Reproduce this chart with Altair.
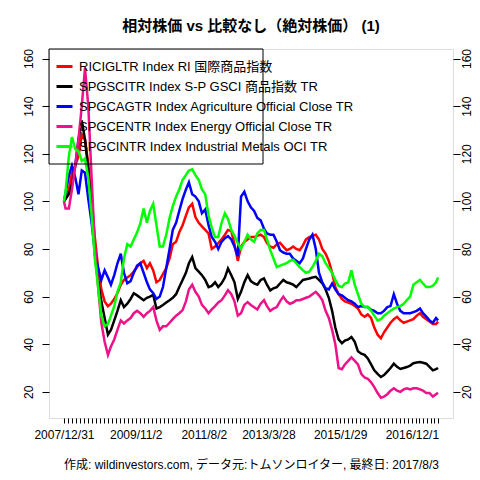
import altair as alt
import pandas as pd

# ---- data (monthly samples) ----
dates = ["2007-12-31"] + [f"{y}-{m:02d}-15" for y in range(2008, 2018) for m in range(1, 13)
                          if (y, m) <= (2017, 7)] + ["2017-08-03"]

series_names = [
    "RICIGLTR Index RI 国際商品指数",
    "SPGSCITR Index S-P GSCI 商品指数 TR",
    "SPGCAGTR Index Agriculture Official Close TR",
    "SPGCENTR Index Energy Official Close TR",
    "SPGCINTR Index Industrial Metals OCI TR",
]
series_colors = ["#FF0000", "#000000", "#0000FF", "#EE1289", "#00FF00"]

red = [
    100, 101, 105, 112, 115, 119, 128, 126, 116, 100,
    85, 72, 63, 58, 56, 57, 59, 61.5, 65, 67,
    68, 69, 70.5, 72.4, 74, 75, 72, 74, 71, 66,
    67, 69.5, 72, 76, 82, 83, 87, 90, 94, 97.5,
    99, 93.4, 91, 89.5, 88, 86.5, 80, 81, 82.5, 84,
    86, 88, 87.5, 82, 75, 81, 83, 84, 85, 85,
    85.5, 86, 85, 82.5, 81, 80.5, 82, 82.6, 81, 79.5,
    80, 81, 80, 79.5, 81.5, 84, 85, 85.5, 86, 84,
    80, 78, 75, 70, 64, 61, 59, 58, 57.5, 57,
    56, 55, 52.5, 51.5, 52.5, 51, 47, 44, 42.5, 45,
    47, 49, 50.5, 51.5, 50, 49, 49.5, 50, 50.5, 52,
    53, 51.5, 50.5, 49.5, 48.5, 48.5, 49.5,
]
black = [
    100, 101, 103, 107, 115, 126, 134, 126, 113, 98,
    78, 66, 58, 51, 44, 46, 50, 54, 58.5, 55.6,
    57, 59, 61.4, 60.5, 59.5, 58.5, 59.5, 60, 60.7, 55,
    55.6, 56.5, 57.5, 58.5, 59.5, 61, 64, 67, 70, 74,
    76.6, 72, 70.5, 69, 67, 64, 64.5, 66, 64, 65.6,
    68, 71.8, 69, 66, 59, 62, 66, 69, 66.5, 65.5,
    65, 67, 67.6, 65, 62.6, 63.5, 64, 65.5, 67, 66,
    65.6, 65, 64, 65.5, 67, 67.3, 67.6, 68, 68.3, 67,
    65.6, 63, 59.5, 54, 47, 42, 40.4, 41.5, 42, 43,
    41, 37, 36, 35.5, 34, 31.5, 29, 27.5, 26.2, 27,
    28.5, 30, 31.8, 30.5, 29.6, 30, 30.4, 31, 32, 32.3,
    32.5, 32.2, 31.8, 30.5, 29, 29.5, 30,
]
blue = [
    100, 103.7, 110.8, 115, 110, 103, 113, 112, 101, 91,
    79, 72, 67, 71, 68, 65, 69, 74, 78, 70,
    65.6, 66.5, 70, 73, 74, 70, 66, 63, 61.4, 59,
    60, 64, 72, 80, 88, 91, 96, 101, 105, 108,
    103, 102, 100, 95, 96.6, 90, 85, 83, 80, 83,
    84.5, 85.4, 84, 81, 77, 102, 104, 100, 97.5, 96,
    93, 92, 88.5, 86.5, 86, 86, 83, 79.5, 78.5, 78,
    78, 76, 75, 74, 76, 80, 84, 86, 80, 70,
    66, 63.5, 63, 65.5, 63, 61, 60.5, 59.5, 58.5, 58,
    57, 55.6, 56, 55.6, 55.6, 54.5, 54, 53, 53, 54,
    55.6, 56, 61, 57, 54, 53, 53, 53, 53.5, 54,
    55, 53, 51.6, 50, 49, 51, 50,
]
pink = [
    100, 97, 97, 105, 115, 126, 140, 156, 140, 110,
    82, 64, 49, 41, 35.5, 39, 42, 46, 50, 48.7,
    50, 51, 53, 54, 53, 51.5, 53, 54, 55.6, 50,
    46, 47.5, 47.5, 49, 50.5, 52, 53, 54.3, 58, 63,
    65, 62, 60, 56.5, 55, 53, 54.6, 56, 57.5, 58.5,
    60.5, 62.7, 61, 58, 52, 53, 56.5, 57.7, 56.5, 55.5,
    54.6, 57, 58.5, 56, 54, 55, 55.6, 58, 60, 58,
    57, 57.5, 58.5, 58.5, 59, 59.5, 60, 61, 62, 60.5,
    58.5, 54, 51, 46, 40, 30, 29.5, 31.5, 33, 34.5,
    33, 31.5, 27.5, 26, 25.5, 24, 22, 19.5, 17.5, 18,
    19, 20.5, 21.5, 20.5, 20, 21, 21.5, 21, 21.5, 21.5,
    21, 20.5, 19.5, 19.5, 18, 19, 19.6,
]
green = [
    100, 104, 119, 127, 122, 121, 117, 118, 110, 94,
    76, 64, 52, 47.5, 48.5, 52, 56, 62, 66, 76,
    82, 81, 84, 87, 90.7, 97, 91, 96, 99, 90,
    81, 81, 86, 93, 98, 102, 105, 109, 111, 113,
    113.5, 111, 109, 105, 103, 94, 89, 85, 85, 91,
    95, 92.6, 88, 85.5, 82.4, 80, 83, 86, 84, 83,
    86.5, 88, 88, 84, 79.5, 76, 72.4, 73, 73.5, 74,
    75, 75.5, 74, 72.4, 71, 70, 70.5, 72.4, 75, 78,
    77, 74, 72, 70, 67, 64.5, 64, 65.5, 66, 71,
    65, 61, 57, 55.6, 55.6, 54, 52, 50, 50.5, 52,
    53, 54, 55, 55.6, 56, 57, 58.5, 60, 65, 66,
    67, 65.5, 64, 64, 64.5, 66, 68,
]

label_dates = ["2007-12-31", "2009-11-02", "2011-08-02", "2013-03-28",
               "2015-01-29", "2016-12-01", "2017-08-03"]
y_ticks = [20, 40, 60, 80, 100, 120, 140, 160]

title_text = "相対株価 vs 比較なし（絶対株価） (1)"
caption_text = "作成: wildinvestors.com, データ元:トムソンロイター, 最終日: 2017/8/3"

# ---- build table ----
rows = []
for name, vals in zip(series_names, [red, black, blue, pink, green]):
    for d, v in zip(dates, vals):
        rows.append({"date": d, "value": v, "series": name})
df = pd.DataFrame(rows)

# tick positions: evenly split between labelled dates (R index-axis look)
tick_ms = []
lab = [pd.Timestamp(d) for d in label_dates]
for a, b in zip(lab[:-1], lab[1:]):
    n = max(1, round((b - a).days / 36.8))
    for i in range(n):
        tick_ms.append(int((a + (b - a) * i / n).timestamp() * 1000))
tick_ms.append(int(lab[-1].timestamp() * 1000))
shown = [f"{t.year}/{t.month}/{t.day}" for t in lab[:-1]]
label_expr = ("indexof(" + str(shown) + ", utcFormat(datum.value, '%Y/%-m/%-d')) >= 0 ? "
              "utcFormat(datum.value, '%Y/%-m/%-d') : ''")

x_dom = [int(pd.Timestamp("2007-08-13").timestamp() * 1000),
         int(pd.Timestamp("2017-12-21").timestamp() * 1000)]

FONT = "Liberation Sans, Arial, Noto Sans CJK JP"

x_enc = alt.X(
    "date:T",
    scale=alt.Scale(type="utc", domain=x_dom, nice=False),
    axis=alt.Axis(
        values=tick_ms, labelExpr=label_expr, labelOverlap=False, labelFlush=False,
        labelBound=False, grid=False, domain=False, tickSize=5, tickColor="black",
        labelFontSize=12, labelColor="black", labelFont=FONT, labelPadding=6,
        labelAngle=0, title=caption_text, titleFont=FONT, titleFontSize=12,
        titleFontWeight="normal", titleColor="black", titleX=202, titleY=46,
        titleBaseline="middle", titleAlign="center", titleAngle=0,
    ),
)
y_scale = alt.Scale(domain=[9, 164], nice=False, zero=False)


def y_axis(orient):
    return alt.Axis(
        orient=orient, values=y_ticks, grid=False, domain=False, tickSize=7,
        tickColor="black", labelAngle=270, labelFontSize=12, labelColor="black",
        labelFont=FONT, labelPadding=7 if orient == "left" else 1,
        title=None, labelOverlap=False, labelFlush=False,
    )


lines = alt.Chart(df).mark_line(strokeWidth=2.5, interpolate="linear").encode(
    x=x_enc,
    y=alt.Y("value:Q", scale=y_scale, axis=y_axis("left")),
    color=alt.Color(
        "series:N",
        scale=alt.Scale(domain=series_names, range=series_colors),
        legend=alt.Legend(
            orient="none", legendX=0, legendY=2, direction="vertical", title=None,
            padding=6, symbolType="stroke", symbolStrokeWidth=3, symbolSize=256,
            labelFontSize=13, labelFont=FONT, labelColor="black", labelLimit=400,
            labelOffset=5, rowPadding=3,
        ),
    ),
    detail="series:N",
)

right = alt.Chart(df).mark_line(opacity=0).encode(
    x=x_enc,
    y=alt.Y("value:Q", scale=y_scale, axis=y_axis("right")),
    detail="series:N",
)

# legend frame (R draws a fixed-size box narrower than the longer labels)
legend_box = alt.Chart(pd.DataFrame({"k": [0]})).mark_rect(
    fill="transparent", stroke="black", strokeWidth=1
).encode(x=alt.value(0), x2=alt.value(214), y=alt.value(0), y2=alt.value(115))

chart = (
    alt.layer(lines, right, legend_box)
    .resolve_axis(y="independent")
    .properties(
        width=404, height=369,
        padding={"left": 41, "top": 41, "right": 19, "bottom": 54},
        autosize=alt.AutoSizeParams(type="none"),
        title=alt.TitleParams(
            text=title_text, font=FONT, fontSize=15, fontWeight="bold",
            color="black", anchor="middle", frame="group", baseline="bottom", offset=0,
        ),
    )
    .configure_view(stroke="black", strokeWidth=1)
    .configure(background="white")
)

chart.save("out.html", embed_options={"renderer": "svg", "actions": False})
